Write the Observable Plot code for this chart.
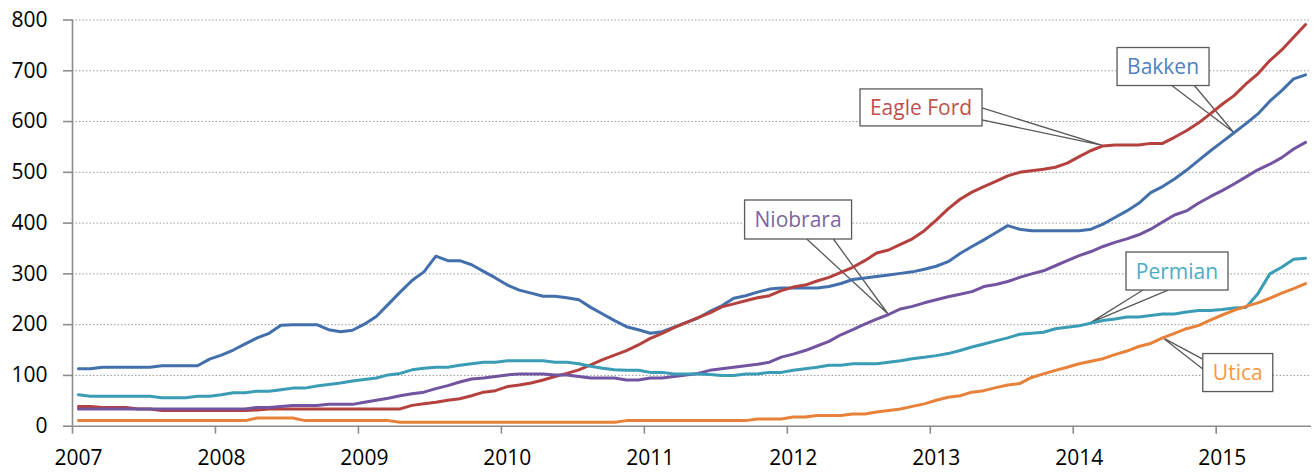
<!DOCTYPE html>
<html>
<head>
<meta charset="utf-8">
<script src="https://cdn.jsdelivr.net/npm/d3@7"></script>
<script src="https://cdn.jsdelivr.net/npm/@observablehq/plot@0.6"></script>
<style>
  html, body { margin: 0; padding: 0; background: #fff; }
  #chart { width: 1316px; height: 473px; }
</style>
</head>
<body>
<div id="chart"></div>
<script>
// Monthly values, January 2007 – August 2015 (104 months)
const startYear = 2007;

const bakken = [
  113,113,116,116,116,116,116,119,119,119,119,132,
  140,150,162,174,183,199,200,200,200,190,186,189,
  201,216,240,264,287,304,335,326,326,318,305,292,
  278,268,262,256,256,253,249,234,221,208,196,190,
  183,186,195,204,213,226,237,252,257,264,270,272,
  272,272,272,275,281,289,292,295,298,301,304,309,
  315,324,340,354,367,381,395,388,385,385,385,385,
  385,388,398,411,424,439,460,472,487,504,523,542,
  560,578,596,615,640,661,684,692
];
const eagleFord = [
  39,39,37,37,37,34,34,31,31,31,31,31,
  31,31,31,32,34,34,34,34,34,34,34,34,
  34,34,34,34,41,44,47,51,54,60,67,70,
  78,81,85,91,98,104,111,121,131,140,149,160,
  173,183,194,204,214,223,235,241,247,253,257,267,
  274,278,286,293,303,313,326,341,347,358,369,385,
  406,428,447,461,472,482,493,500,503,506,510,518,
  531,543,552,554,554,554,557,557,569,582,597,615,
  634,651,674,694,720,741,766,791
];
const niobrara = [
  34,34,34,34,34,34,34,34,34,34,34,34,
  34,34,34,37,37,39,41,41,41,43,43,43,
  47,51,55,60,64,67,74,80,87,93,95,98,
  101,103,103,103,101,101,98,95,95,95,91,91,
  95,95,98,101,104,110,113,116,119,122,126,136,
  142,149,158,167,180,190,201,211,220,231,236,243,
  249,255,260,265,275,279,285,293,300,306,316,326,
  336,344,354,362,369,377,388,402,416,424,439,452,
  464,477,491,505,516,529,546,559
];
const permian = [
  62,59,59,59,59,59,59,56,56,56,59,59,
  62,66,66,69,69,72,75,75,79,82,85,89,
  92,95,101,104,111,114,116,116,120,123,126,126,
  129,129,129,129,126,126,123,118,114,111,110,110,
  106,106,103,103,103,102,100,100,103,103,106,106,
  110,113,116,120,120,123,123,123,126,129,133,136,
  139,143,149,156,162,168,174,181,183,185,192,195,
  198,203,208,211,215,215,218,221,221,225,228,228,
  230,233,234,261,300,313,329,331
];
const utica = [
  11,11,11,11,11,11,11,11,11,11,11,11,
  11,11,11,16,16,16,16,11,11,11,11,11,
  11,11,11,8,8,8,8,8,8,8,8,8,
  8,8,8,8,8,8,8,8,8,8,11,11,
  11,11,11,11,11,11,11,11,11,14,14,14,
  18,18,21,21,21,24,24,28,31,34,39,44,
  51,57,60,67,70,76,81,84,96,103,110,116,
  123,128,133,141,148,157,163,174,183,192,198,209,
  219,228,236,243,252,262,271,281
];

const seriesNames  = ["Bakken", "Eagle Ford", "Niobrara", "Permian", "Utica"];
const seriesValues = [bakken, eagleFord, niobrara, permian, utica];
const lineColors   = ["#4370AC", "#B5413E", "#7254A0", "#3A9CB5", "#E8823A"];
const labelColors  = ["#4F81BD", "#C0504D", "#8064A2", "#4BACC6", "#F79646"];

const yTicks    = [0, 100, 200, 300, 400, 500, 600, 700, 800];
const yearTicks = [2007, 2008, 2009, 2010, 2011, 2012, 2013, 2014, 2015];

// callout targets: series and month (year, month 1-12) the pointer touches
const calloutTargets = [
  {series: "Eagle Ford", year: 2014, month: 3},
  {series: "Bakken",     year: 2015, month: 2},
  {series: "Niobrara",   year: 2012, month: 9},
  {series: "Permian",    year: 2014, month: 2},
  {series: "Utica",      year: 2014, month: 8}
];
// callout box layout (pixel offsets of the box centre from the target, pointer side/attachments)
const calloutLayout = {
  "Eagle Ford": {dx: -181.5, dy: -38, h: 37, side: "right",  a: [0.5, 12.5]},
  "Bakken":     {dx: -70.5,  dy: -65.7, h: 38, side: "bottom", a: [8.7, 31.3]},
  "Niobrara":   {dx: -90,    dy: -94.5, h: 39, side: "bottom", a: [8.7, 35.3]},
  "Permian":    {dx: 86.4,   dy: -51.6, h: 38, side: "bottom", a: [-34, -9]},
  "Utica":      {dx: 75.7,   dy: 35.2,  h: 38, side: "left",   a: [-13.5, -3.5]}
};

const monthPos = (i) => startYear + (i + 0.5) / 12;

const rows = [];
seriesNames.forEach((name, k) => {
  seriesValues[k].forEach((v, i) => rows.push({series: name, t: monthPos(i), value: v}));
});

const FONT = "'Open Sans', 'Noto Sans', sans-serif";
const FS = 21;
const measureCtx = document.createElement("canvas").getContext("2d");
measureCtx.font = `${FS}px 'Open Sans'`;

function calloutMark(index, scales) {
  const g = d3.create("svg:g").attr("class", "callouts");
  for (const c of calloutTargets) {
    const k = seriesNames.indexOf(c.series);
    const i = (c.year - startYear) * 12 + (c.month - 1);
    const tx = scales.x(monthPos(i));
    const ty = scales.y(seriesValues[k][i]);
    const L = calloutLayout[c.series];
    const w = Math.round(measureCtx.measureText(c.series).width) + 20;
    const cx = tx + L.dx, cy = ty + L.dy;
    const x0 = cx - w / 2, x1 = cx + w / 2, y0 = cy - L.h / 2, y1 = cy + L.h / 2;
    let A, B;
    if (L.side === "right")  { A = [x1, cy + L.a[0]]; B = [x1, cy + L.a[1]]; }
    if (L.side === "left")   { A = [x0, cy + L.a[0]]; B = [x0, cy + L.a[1]]; }
    if (L.side === "bottom") { A = [cx + L.a[0], y1]; B = [cx + L.a[1], y1]; }
    g.append("path")
      .attr("d", `M${A[0]},${A[1]}L${tx},${ty}L${B[0]},${B[1]}`)
      .attr("fill", "#fff").attr("stroke", "#595959").attr("stroke-width", 1.3)
      .attr("stroke-linejoin", "miter");
    g.append("rect")
      .attr("x", x0).attr("y", y0).attr("width", w).attr("height", L.h)
      .attr("fill", "#fff").attr("stroke", "#595959").attr("stroke-width", 1.3);
    g.append("text")
      .attr("x", cx).attr("y", cy + FS * 0.357)
      .attr("text-anchor", "middle")
      .attr("fill", labelColors[k])
      .attr("font-family", FONT).attr("font-size", FS)
      .text(c.series);
  }
  return g.node();
}

const chart = Plot.plot({
  width: 1316,
  height: 473,
  marginLeft: 72,
  marginRight: 5,
  marginTop: 19.5,
  marginBottom: 47.3,
  style: {fontFamily: FONT, fontSize: FS + "px", color: "#000", background: "#fff", overflow: "visible"},
  x: {domain: [startYear, startYear + 104 / 12], axis: null, label: null},
  y: {domain: [0, 800], axis: null, label: null},
  color: {domain: seriesNames, range: lineColors},
  marks: [
    Plot.gridY(yTicks.filter((d) => d > 0), {stroke: "#9a9a9a", strokeOpacity: 1, strokeWidth: 1, strokeDasharray: "1.5,2"}),
    Plot.ruleX([startYear], {stroke: "#8c8c8c", strokeWidth: 1.6}),
    Plot.axisY(yTicks, {label: null, tickSize: 9, tickPadding: 16, stroke: "#8c8c8c", strokeWidth: 1.6, fill: "#000", tickFormat: (d) => String(d)}),
    Plot.axisX(yearTicks, {label: null, tickSize: 8, stroke: "#8c8c8c", strokeWidth: 1.6, tickFormat: () => ""}),
    Plot.axisX(yearTicks.map((y) => y + 1 / 24), {label: null, tickSize: 0, tickPadding: 24, fill: "#000", tickFormat: (d) => String(Math.floor(d + 1e-6))}),
    calloutMark,
    Plot.line(rows, {x: "t", y: "value", z: "series", stroke: "series", strokeWidth: 3, strokeLinejoin: "round"}),
    Plot.ruleY([0], {stroke: "#8c8c8c", strokeWidth: 1.6})
  ]
});

document.getElementById("chart").appendChild(chart);
</script>
</body>
</html>
